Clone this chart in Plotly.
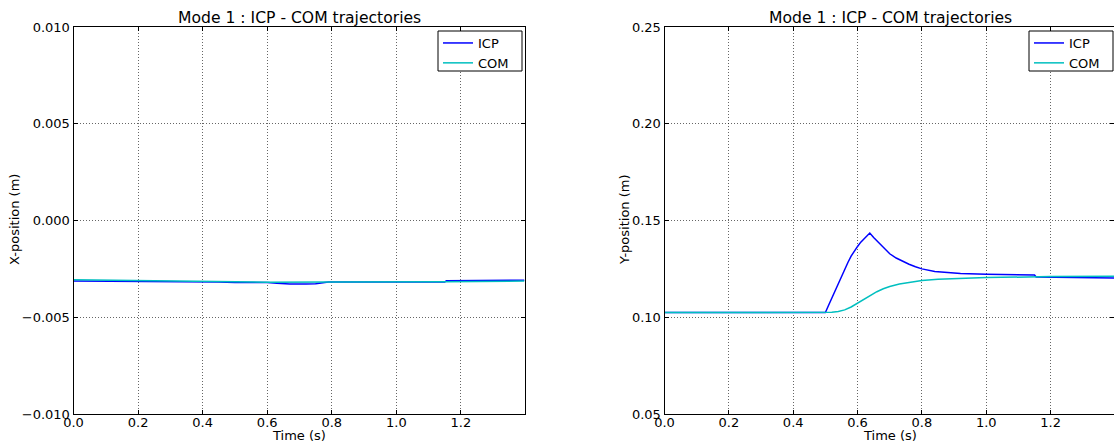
import plotly.graph_objects as go

# ---------------- data ----------------
# Left panel: X-position (m)
t_icp_x = [0.0, 0.30, 0.45, 0.50, 0.55, 0.60, 0.63, 0.67, 0.72, 0.75, 0.79, 0.85, 1.00, 1.15, 1.155, 1.397]
icp_x = [-0.00313, -0.00315, -0.00318, -0.00321, -0.00320, -0.00320, -0.00324, -0.00328, -0.00328,
         -0.00327, -0.00318, -0.00317, -0.00318, -0.00318, -0.00311, -0.00309]
t_com_x = [0.0, 0.30, 0.60, 0.80, 1.00, 1.15, 1.397]
com_x = [-0.00306, -0.00312, -0.00319, -0.00318, -0.00318, -0.00317, -0.00313]

# Right panel: Y-position (m)
t_icp_y = [0.0, 0.50, 0.51, 0.52, 0.53, 0.54, 0.55, 0.56, 0.57, 0.58, 0.59, 0.60, 0.61, 0.62, 0.63, 0.638,
           0.65, 0.66, 0.67, 0.68, 0.69, 0.70, 0.72, 0.74, 0.76, 0.78, 0.80, 0.84, 0.88, 0.92, 1.00,
           1.15, 1.155, 1.397]
icp_y = [0.1024, 0.1024, 0.1062, 0.1100, 0.1138, 0.1175, 0.1211, 0.1247, 0.1283, 0.1316, 0.1343, 0.1366,
         0.1388, 0.1406, 0.1422, 0.1435,
         0.1412, 0.1395, 0.1376, 0.1358, 0.1342, 0.1328, 0.1306, 0.1289, 0.1274, 0.1261, 0.1250, 0.1237,
         0.1230, 0.1226, 0.1222, 0.1218, 0.1208, 0.1203]
t_com_y = [0.0, 0.50, 0.52, 0.54, 0.56, 0.58, 0.60, 0.62, 0.64, 0.66, 0.68, 0.70, 0.73, 0.76, 0.80,
           0.85, 0.90, 1.00, 1.20, 1.397]
com_y = [0.1024, 0.1024, 0.1026, 0.1030, 0.1038, 0.1053, 0.1072, 0.1093, 0.1114, 0.1132, 0.1147, 0.1159,
         0.1172, 0.1181, 0.1190, 0.1196, 0.1200, 0.1205, 0.1210, 0.1212]

x_ticks = [0.0, 0.2, 0.4, 0.6, 0.8, 1.0, 1.2]
x_tick_text = ["0.0", "0.2", "0.4", "0.6", "0.8", "1.0", "1.2"]
yx_ticks = [-0.010, -0.005, 0.0, 0.005, 0.010]
yx_tick_text = ["\u22120.010", "\u22120.005", "0.000", "0.005", "0.010"]
yy_ticks = [0.05, 0.10, 0.15, 0.20, 0.25]
yy_tick_text = ["0.05", "0.10", "0.15", "0.20", "0.25"]

title_text = "Mode 1 : ICP - COM trajectories"
x_label = "Time (s)"
y_labels = ["X-position (m)", "Y-position (m)"]
BLUE = "#0000FF"
CYAN = "#00BFBF"
FONT = "DejaVu Sans"

W, H = 1114, 444
TOP, BOT = 27, 414
PH = BOT - TOP


def py(ypix):
    """pixel row -> paper y"""
    return (BOT - ypix) / PH


fig = go.Figure()

fig.add_trace(go.Scatter(x=t_icp_x, y=icp_x, mode="lines", name="ICP",
                         line=dict(color=BLUE, width=1.5), xaxis="x", yaxis="y", legend="legend"))
fig.add_trace(go.Scatter(x=t_com_x, y=com_x, mode="lines", name="COM",
                         line=dict(color=CYAN, width=1.5), xaxis="x", yaxis="y", legend="legend"))
fig.add_trace(go.Scatter(x=t_icp_y, y=icp_y, mode="lines", name="ICP",
                         line=dict(color=BLUE, width=1.5), xaxis="x2", yaxis="y2", legend="legend2"))
fig.add_trace(go.Scatter(x=t_com_y, y=com_y, mode="lines", name="COM",
                         line=dict(color=CYAN, width=1.5), xaxis="x2", yaxis="y2", legend="legend2"))

left_px = (73.5, 524.5)
right_px = (664.5, 1114.0)
left_dom = [left_px[0] / W, left_px[1] / W]
right_dom = [right_px[0] / W, 1.0]

common_axis = dict(
    showline=True, linecolor="black", linewidth=1, mirror="allticks",
    ticks="inside", ticklen=4, tickcolor="black", tickwidth=1,
    showgrid=True, gridcolor="rgba(0,0,0,0.6)", gridwidth=1, griddash="1px,2px",
    zeroline=False, automargin=False, tickfont=dict(family=FONT, size=13, color="black"),
)

legend_common = dict(xanchor="left", yanchor="top", y=py(28),
                     bgcolor="rgba(0,0,0,0)", borderwidth=0,
                     font=dict(family=FONT, size=13, color="black"), tracegroupgap=0)

fig.update_layout(
    width=W, height=H,
    margin=dict(l=0, r=0, t=TOP, b=H - BOT, autoexpand=False),
    paper_bgcolor="white", plot_bgcolor="white",
    font=dict(family=FONT, size=13, color="black"),
    xaxis=dict(domain=left_dom, range=[0, 1.397], tickvals=x_ticks, ticktext=x_tick_text,
               anchor="y", ticklabelstandoff=-4, **common_axis),
    yaxis=dict(domain=[0, 1], range=[-0.010, 0.010], tickvals=yx_ticks, ticktext=yx_tick_text,
               anchor="x", **common_axis),
    xaxis2=dict(domain=right_dom, range=[0, 1.397], tickvals=x_ticks, ticktext=x_tick_text,
                anchor="y2", ticklabelstandoff=-4, **common_axis),
    yaxis2=dict(domain=[0, 1], range=[0.05, 0.25], tickvals=yy_ticks, ticktext=yy_tick_text,
                anchor="x2", **common_axis),
    legend=dict(x=438 / W, **legend_common),
    legend2=dict(x=1029 / W, **legend_common),
    showlegend=True,
)

# legend frames (matplotlib-style boxes)
for x0 in (438, 1029):
    fig.add_shape(type="rect", xref="paper", yref="paper",
                  x0=x0 / W, x1=(x0 + 84) / W, y0=py(71), y1=py(31),
                  fillcolor="white", line=dict(color="black", width=1), layer="above")

for (a, b), ylab, ylab_x in ((left_px, y_labels[0], 15), (right_px, y_labels[1], 625)):
    fig.add_annotation(text=title_text, xref="paper", yref="paper",
                       x=(a + (524.5 - 73.5) / 2) / W, y=1, xanchor="center", yanchor="bottom",
                       yshift=-2, showarrow=False, font=dict(family=FONT, size=15.6, color="black"))
    fig.add_annotation(text=x_label, xref="paper", yref="paper",
                       x=(a + (524.5 - 73.5) / 2) / W, y=py(435), xanchor="center", yanchor="middle",
                       showarrow=False, font=dict(family=FONT, size=13, color="black"))
    fig.add_annotation(text=ylab, xref="paper", yref="paper", textangle=-90,
                       x=ylab_x / W, y=py(220), xanchor="center", yanchor="middle",
                       showarrow=False, font=dict(family=FONT, size=13, color="black"))

fig.write_html("out.html", config={"displayModeBar": False},
               post_script="document.body.style.margin='0';")
